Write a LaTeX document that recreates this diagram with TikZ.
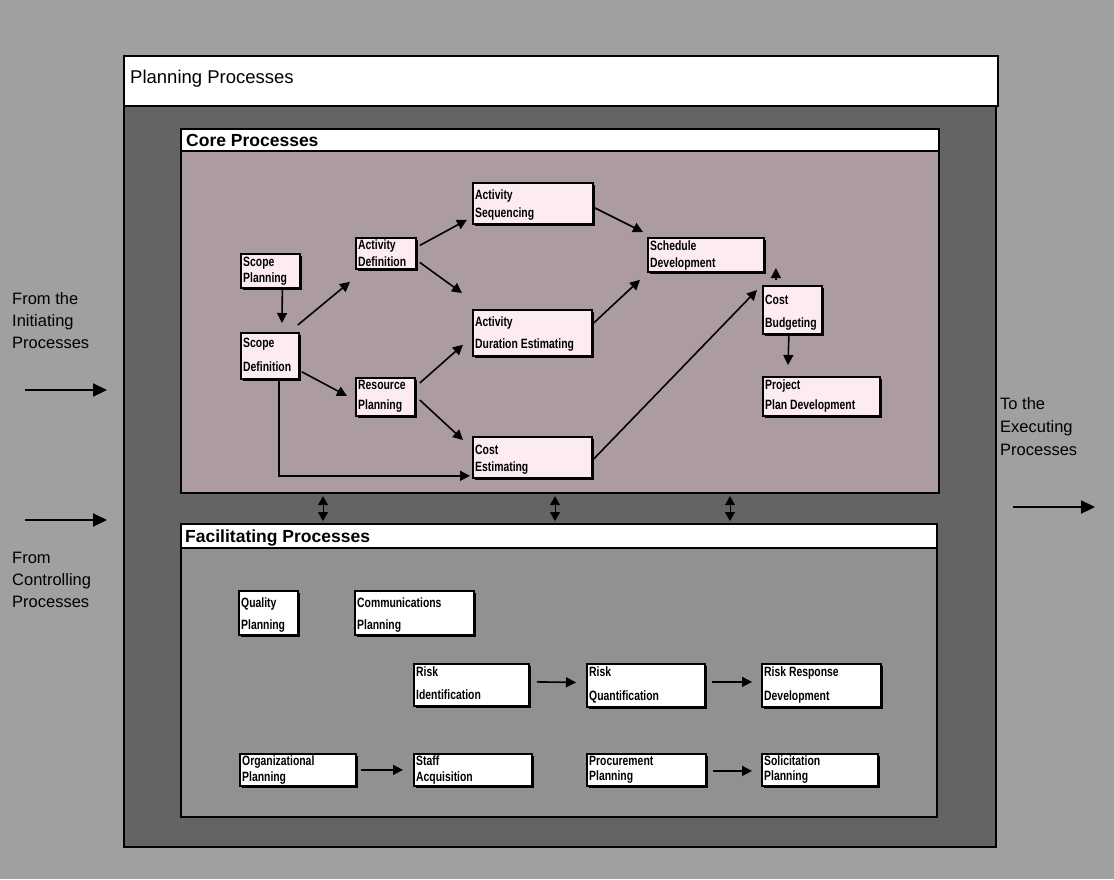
\documentclass[tikz,border=0pt]{standalone}
\usepackage{fontspec}
\setmainfont{Liberation Sans}
\newfontfamily\boxfont[FakeStretch=0.77]{Liberation Sans}
\usetikzlibrary{arrows.meta,calc,shadows}
\definecolor{outerbg}{RGB}{160,160,160}
\definecolor{framebg}{RGB}{100,100,100}
\definecolor{corebg}{RGB}{172,156,159}
\definecolor{facbg}{RGB}{145,145,145}
\definecolor{boxpink}{RGB}{252,236,240}
\tikzset{
  region/.style={draw=black, line width=1.8pt, inner sep=0pt, anchor=north west},
  procbox/.style={draw=black, line width=1.8pt, inner sep=0pt, anchor=north west,
    drop shadow={shadow xshift=1.8pt, shadow yshift=-1.8pt, fill=black, opacity=1}},
  curfill/.style={fill=boxpink},
  boxtxt/.style={anchor=base west, inner sep=0pt, font=\boxfont\bfseries\fontsize{13.5}{14}\selectfont},
  title/.style={anchor=base west, inner sep=0pt, font=\bfseries\fontsize{17.5}{19}\selectfont},
  side/.style={anchor=base west, inner sep=0pt, font=\fontsize{16.5}{18}\selectfont},
  arr/.style={-{Triangle[length=10pt,width=10pt]}, line width=1.6pt, black},
  bigarr/.style={-{Triangle[length=14pt,width=13pt]}, line width=2.2pt, black},
  dblarr/.style={{Triangle[length=9pt,width=10pt]}-{Triangle[length=9pt,width=10pt]}, line width=0.9pt, black, shorten <=2pt, shorten >=2pt}
}
\newcommand\bx[9]{%
  \node[procbox,curfill,minimum width={#4-#2},minimum height={#5-#3}] (#1) at (#2,#3) {};
  \node[boxtxt] (#1a) at (#2+3,#7+4.5) {#6};
  \node[boxtxt] (#1b) at (#2+3,#9+4.5) {#8};}
\begin{document}
\begin{tikzpicture}[x=1pt,y=-1pt]
\useasboundingbox (0,0) rectangle (1114,879);
\fill[outerbg] (0,0) rectangle (1114,879);
% frames
\node[region, fill=framebg, minimum width=872, minimum height=741] (frame) at (123,105) {};
\node[region, fill=white, minimum width=874, minimum height=50] (plan) at (123,55) {};
\node[anchor=base west, inner sep=0pt, font=\fontsize{18.5}{20}\selectfont] (plantitle) at (130,83) {Planning Processes};
\node[region, fill=corebg, line width=2.2pt, minimum width=758, minimum height=364] (core) at (180,128) {};
\node[region, fill=white, minimum width=758, minimum height=22] (corehead) at (180,128) {};
\node[title] (coretitle) at (186,146) {Core Processes};
\node[region, fill=facbg, line width=2.2pt, minimum width=756, minimum height=293] (fac) at (180,523) {};
\node[region, fill=white, minimum width=756, minimum height=24] (fachead) at (180,523) {};
\node[title] (factitle) at (185,542) {Facilitating Processes};
% links between core and facilitating
\foreach \x/\n in {323/d1,555/d2,730/d3}{\coordinate (\n) at (\x,0);}
\draw[dblarr] (core.south -| d1) -- (fac.north -| d1);
\draw[dblarr] (core.south -| d2) -- (fac.north -| d2);
\draw[dblarr] (core.south -| d3) -- (fac.north -| d3);
% core boxes
\tikzset{curfill/.style={fill=boxpink}}
\bx{sp}{240}{253}{299}{287}{Scope}{262}{Planning}{278}
\bx{sd}{240}{332}{298}{378}{Scope}{343}{Definition}{367}
\bx{ad}{355}{237}{415}{268}{Activity}{245}{Definition}{262}
\bx{rp}{355}{377}{414}{415}{Resource}{385}{Planning}{405}
\bx{as}{472}{182}{592}{223}{Activity}{195}{Sequencing}{213}
\bx{ade}{472}{309}{591}{355}{Activity}{322}{Duration Estimating}{344}
\bx{ce}{472}{436}{591}{477}{Cost}{450}{Estimating}{467}
\bx{sdv}{647}{237}{763}{271}{Schedule}{246}{Development}{263}
\bx{cb}{762}{285}{821}{333}{Cost}{300}{Budgeting}{323}
\bx{ppd}{762}{376}{879}{415}{Project}{385}{Plan Development}{405}
% core arrows
\draw[arr] ($(sp.south)+(12,1)$) -- ($(sd.north)+(12,-9)$);
\draw[arr] ($(sd.north east)+(-2,-7)$) -- ($(ad.south west)+(-5,12)$);
\draw[arr] ($(sd.south east)+(2,-8)$) -- ($(rp.west)+(-8,-1)$);
\draw[arr] ($(sd.south)+(9,0)$) |- ($(ce.south west)+(-2,-3)$);
\draw[arr] ($(ad.east)+(3,-8)$) -- ($(as.south west)+(-5,-5)$);
\draw[arr] ($(ad.east)+(3,9)$) -- ($(ade.north west)+(-10,-16)$);
\draw[arr] ($(rp.north east)+(4,6)$) -- ($(ade.south west)+(-9,-12)$);
\draw[arr] ($(rp.north east)+(4,23)$) -- ($(ce.north west)+(-9,4)$);
\draw[arr] ($(as.east)+(1,4.5)$) -- ($(sdv.north west)+(-4,-5)$);
\draw[arr] ($(ade.east)+(1,-10)$) -- ($(sdv.south west)+(-7,7)$);
\draw[arr] ($(ce.east)+(1,1.5)$) -- ($(cb.north west)+(-5,5)$);
\draw[arr] ($(cb.north)+(-16.5,-5)$) -- ($(cb.north)+(-16.5,-17)$);
\draw[arr] ($(cb.south)+(-3.5,0)$) -- ($(ppd.north west)+(26,-11)$);
% facilitating boxes
\tikzset{curfill/.style={fill=white}}
\bx{qp}{238}{590}{297}{634}{Quality}{603}{Planning}{625}
\bx{cp}{354}{590}{473}{634}{Communications}{603}{Planning}{625}
\bx{ri}{413}{663}{528}{705}{Risk}{672}{Identification}{695}
\bx{rq}{586}{663}{704}{706}{Risk}{672}{Quantification}{696}
\bx{rrd}{761}{663}{880}{706}{Risk Response}{672}{Development}{696}
\bx{op}{239}{753}{355}{785}{Organizational}{761}{Planning}{777}
\bx{sa}{413}{753}{531}{785}{Staff}{761}{Acquisition}{777}
\bx{pp}{586}{753}{705}{785}{Procurement}{761}{Planning}{776}
\bx{sol}{761}{753}{877}{785}{Solicitation}{761}{Planning}{776}
% facilitating arrows
\draw[arr] ($(ri.east)+(7,-3)$) -- ($(rq.west)+(-10,-3)$);
\draw[arr] ($(rq.east)+(6,-3.5)$) -- ($(rrd.west)+(-9,-3.5)$);
\draw[arr] ($(op.east)+(4,0)$) -- ($(sa.west)+(-10,0)$);
\draw[arr] ($(pp.east)+(6,1)$) -- ($(sol.west)+(-9,1)$);
% side labels and arrows
\node[side] (fi1) at (12,304) {From the};
\node[side] (fi2) at (12,326) {Initiating};
\node[side] (fi3) at (12,348) {Processes};
\node[side] (fc1) at (12,563) {From};
\node[side] (fc2) at (12,585) {Controlling};
\node[side] (fc3) at (12,607) {Processes};
\node[side] (te1) at (1000,409) {To the};
\node[side] (te2) at (1000,432) {Executing};
\node[side] (te3) at (1000,455) {Processes};
\coordinate (i1s) at (25,390); \coordinate (i1e) at (107,390);
\coordinate (i2s) at (25,520); \coordinate (i2e) at (107,520);
\coordinate (o1s) at (1013,507); \coordinate (o1e) at (1095,507);
\draw[bigarr] (i1s) -- (i1e);
\draw[bigarr] (i2s) -- (i2e);
\draw[bigarr] (o1s) -- (o1e);
\end{tikzpicture}
\end{document}
